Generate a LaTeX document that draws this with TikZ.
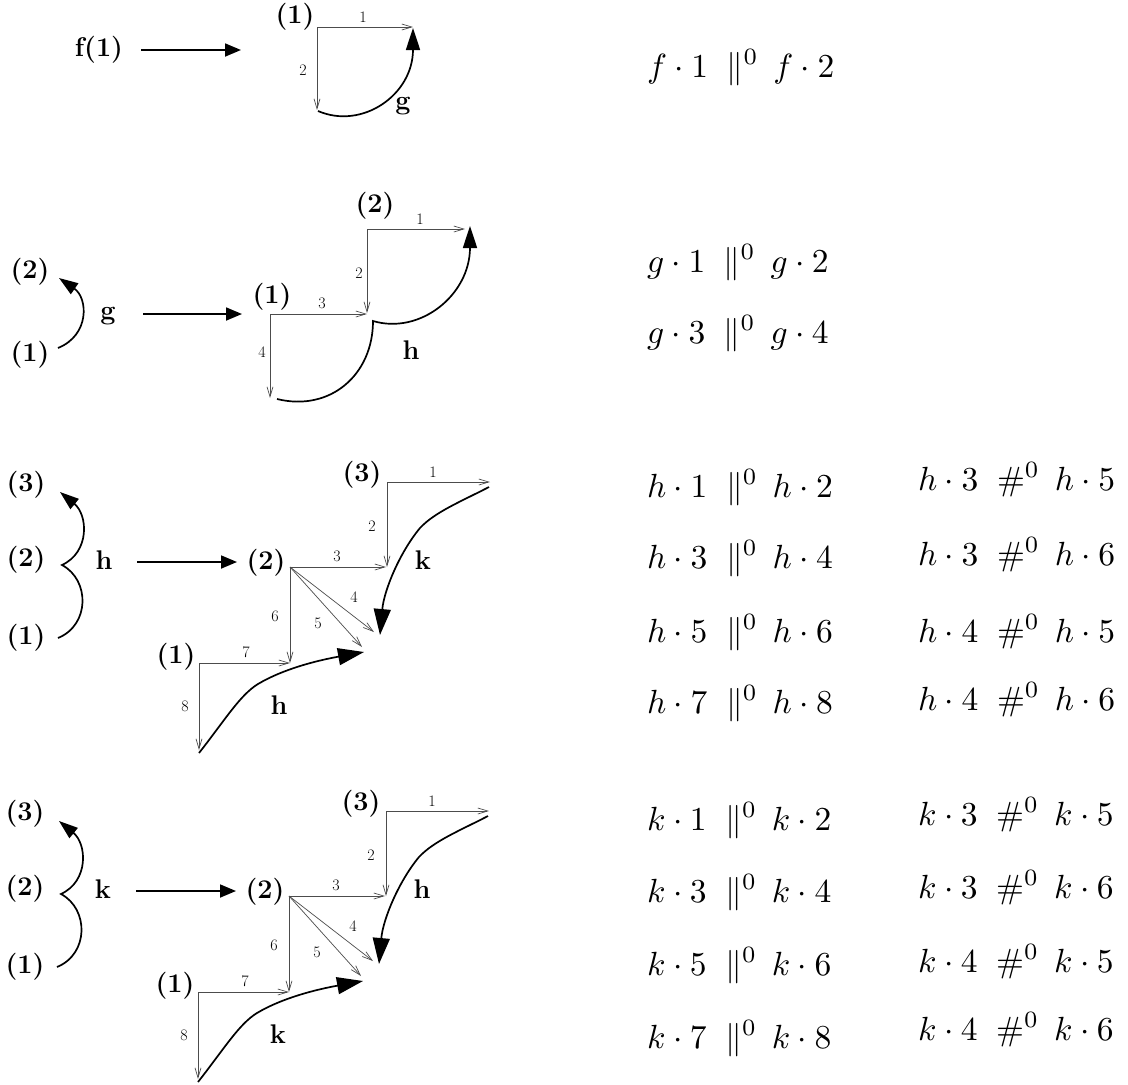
\RequirePackage{fix-cm}
\documentclass[tikz,border=0pt]{standalone}
\usetikzlibrary{arrows.meta}
\tikzset{
  lab/.style={inner sep=0pt, font=\fontsize{27}{31}\selectfont\bfseries},
  num/.style={inner sep=0pt, font=\fontsize{16}{18}\selectfont},
  eq/.style={inner sep=0pt, anchor=base west},
  greyarr/.style={draw=black!70, line width=0.7pt, -{Straight Barb[length=10pt,width=6pt]}},
  curvearr/.style={line width=1.7pt, -{Triangle[length=22pt,width=14pt]}},
  curvearrS/.style={line width=1.7pt, -{Triangle[length=19pt,width=13pt]}},
  curvearrB/.style={line width=1.7pt, -{Triangle[length=26pt,width=17pt]}},
  bigarr/.style={line width=1.8pt, -{Triangle[length=16pt,width=13pt]}},
}
\newcommand{\PAR}[3]{\scalebox{3.35}{$#1\cdot #2\mkern5mu\parallel^0\mkern3mu #1\cdot #3$}}
\newcommand{\HASH}[3]{\scalebox{3.35}{$#1\cdot #2\mkern5mu\mathrel{\#^0}\mkern3mu #1\cdot #3$}}
\newcommand{\RowDiag}[6]{%
\begin{scope}[shift={(#2,#1)}]
  \node[lab] (#6l3) at (26,485) {(3)};
  \node[lab] (#6l2) at (26,560) {(2)};
  \node[lab] (#6l1) at (26,638) {(1)};
  \coordinate (#6ls) at (58,638);
  \coordinate (#6lc) at (62,565);
  \coordinate (#6le) at (60,492);
  \draw[curvearrS] (#6ls) .. controls (90,625) and (90,580) .. (#6lc)
                          .. controls (90,552) and (88,515) .. (#6le);
  \node[lab] (#6lab) at (104,560) {#3};
  \coordinate (#6as) at (137,562);
  \coordinate (#6ae) at (237,562);
  \draw[bigarr] (#6as) -- (#6ae);
  \node[lab] (#6m2) at (266,563) {(2)};
  \node[lab] (#6u3) at (362,475) {(3)};
  \node[lab] (#6d1) at (176,657) {(1)};
  \coordinate (#6C3) at (387,482);
  \coordinate (#6C3h) at (490,482);
  \coordinate (#6C3v) at (387,567);
  \coordinate (#6C2) at (290,567);
  \coordinate (#6C2h) at (386,567);
  \coordinate (#6C2v) at (290,663);
  \coordinate (#6C2a) at (374,632);
  \coordinate (#6C2b) at (362,647);
  \coordinate (#6C1) at (199,663);
  \coordinate (#6C1h) at (290,663);
  \coordinate (#6C1v) at (199,750);
  \draw[greyarr] (#6C3) -- (#6C3h);
  \draw[greyarr] (#6C3) -- (#6C3v);
  \draw[greyarr] (#6C2) -- (#6C2h);
  \draw[greyarr] (#6C2) -- (#6C2v);
  \draw[greyarr] (#6C2) -- (#6C2a);
  \draw[greyarr] (#6C2) -- (#6C2b);
  \draw[greyarr] (#6C1) -- (#6C1h);
  \draw[greyarr] (#6C1) -- (#6C1v);
  \node[num] (#6n1) at (433,472) {1};
  \node[num] (#6n2) at (372,526) {2};
  \node[num] (#6n3) at (337,556) {3};
  \node[num] (#6n6) at (275,616) {6};
  \node[num] (#6n4) at (354,597) {4};
  \node[num] (#6n5) at (318,623) {5};
  \node[num] (#6n7) at (246,652) {7};
  \node[num] (#6n8) at (185,706) {8};
  \coordinate (#6us) at (489,487);
  \coordinate (#6um) at (420,528);
  \coordinate (#6ue) at (380,635);
  \draw[curvearrB] (#6us) .. controls (460,502) and (435,512) .. (#6um)
                          .. controls (400,552) and (384,590) .. (#6ue);
  \coordinate (#6ds) at (199,753);
  \coordinate (#6dm) at (258,684);
  \coordinate (#6de) at (364,652);
  \draw[curvearrB] (#6ds) .. controls (225,720) and (240,695) .. (#6dm)
                          .. controls (285,668) and (320,660) .. (#6de);
  \node[lab] (#6ul) at (423,560) {#4};
  \node[lab] (#6dl) at (279,705) {#5};
\end{scope}}
\begin{document}
\begin{tikzpicture}[x=1pt,y=-1pt]
\useasboundingbox (0,0) rectangle (1128,1085);
% ---------- row 1
\node[lab] (f1) at (99,50) {f(1)};
\coordinate (a1s) at (141,50);
\coordinate (a1e) at (241,50);
\draw[bigarr] (a1s) -- (a1e);
\node[lab] (r1n1) at (295,17) {(1)};
\coordinate (A1) at (317,27);
\coordinate (A1h) at (413,27);
\coordinate (A1v) at (317,110);
\draw[greyarr] (A1) -- (A1h);
\draw[greyarr] (A1) -- (A1v);
\node[num] (r1a) at (363,17) {1};
\node[num] (r1b) at (303,70) {2};
\coordinate (c1s) at (318,111);
\coordinate (c1e) at (413,28);
\draw[curvearr] (c1s) .. controls (362,130) and (413,95) .. (c1e);
\node[lab] (g1) at (403,106) {g};
\node[eq] (e1) at (647,77) {\PAR{f}{1}{2}};
% ---------- row 2
\node[lab] (r2l2) at (30,272) {(2)};
\node[lab] (r2l1) at (30,355) {(1)};
\coordinate (r2ls) at (58,348);
\coordinate (r2le) at (59,278);
\draw[curvearrS] (r2ls) .. controls (90,335) and (88,298) .. (r2le);
\node[lab] (g2) at (108,316) {g};
\coordinate (a2s) at (143,314);
\coordinate (a2e) at (242,314);
\draw[bigarr] (a2s) -- (a2e);
\node[lab] (r2m1) at (272,297) {(1)};
\node[lab] (r2u2) at (375,206) {(2)};
\coordinate (B1) at (270,314);
\coordinate (B1h) at (367,314);
\coordinate (B1v) at (270,398);
\coordinate (B2) at (367,229);
\coordinate (B2h) at (465,229);
\coordinate (B2v) at (367,313);
\draw[greyarr] (B1) -- (B1h);
\draw[greyarr] (B1) -- (B1v);
\draw[greyarr] (B2) -- (B2h);
\draw[greyarr] (B2) -- (B2v);
\node[num] (r2n3) at (322,303) {3};
\node[num] (r2n4) at (262,352) {4};
\node[num] (r2n2) at (359,273) {2};
\node[num] (r2n1) at (420,219) {1};
\coordinate (c2s) at (277,399);
\coordinate (c2m) at (373,321);
\coordinate (c2e) at (470,226);
\draw[curvearr] (c2s) .. controls (330,412) and (373,375) .. (c2m)
                      .. controls (420,335) and (470,295) .. (c2e);
\node[lab] (h2) at (411,350) {h};
\node[eq] (e2a) at (647,272) {\PAR{g}{1}{2}};
\node[eq] (e2b) at (647,343) {\PAR{g}{3}{4}};
% ---------- row 3
\RowDiag{0}{0}{h}{k}{h}{p}
\node[eq] (e3a) at (647,497) {\PAR{h}{1}{2}};
\node[eq] (e3b) at (647,568) {\PAR{h}{3}{4}};
\node[eq] (e3c) at (647,642) {\PAR{h}{5}{6}};
\node[eq] (e3d) at (647,713) {\PAR{h}{7}{8}};
\node[eq] (e3e) at (918,490) {\HASH{h}{3}{5}};
\node[eq] (e3f) at (918,565) {\HASH{h}{3}{6}};
\node[eq] (e3g) at (918,642) {\HASH{h}{4}{5}};
\node[eq] (e3h) at (918,710) {\HASH{h}{4}{6}};
% ---------- row 4
\RowDiag{329}{-1}{k}{h}{k}{q}
\node[eq] (e4a) at (647,830) {\PAR{k}{1}{2}};
\node[eq] (e4b) at (647,902) {\PAR{k}{3}{4}};
\node[eq] (e4c) at (647,975) {\PAR{k}{5}{6}};
\node[eq] (e4d) at (647,1048) {\PAR{k}{7}{8}};
\node[eq] (e4e) at (918,825) {\HASH{k}{3}{5}};
\node[eq] (e4f) at (918,898) {\HASH{k}{3}{6}};
\node[eq] (e4g) at (918,972) {\HASH{k}{4}{5}};
\node[eq] (e4h) at (918,1040) {\HASH{k}{4}{6}};
\end{tikzpicture}
\end{document}
